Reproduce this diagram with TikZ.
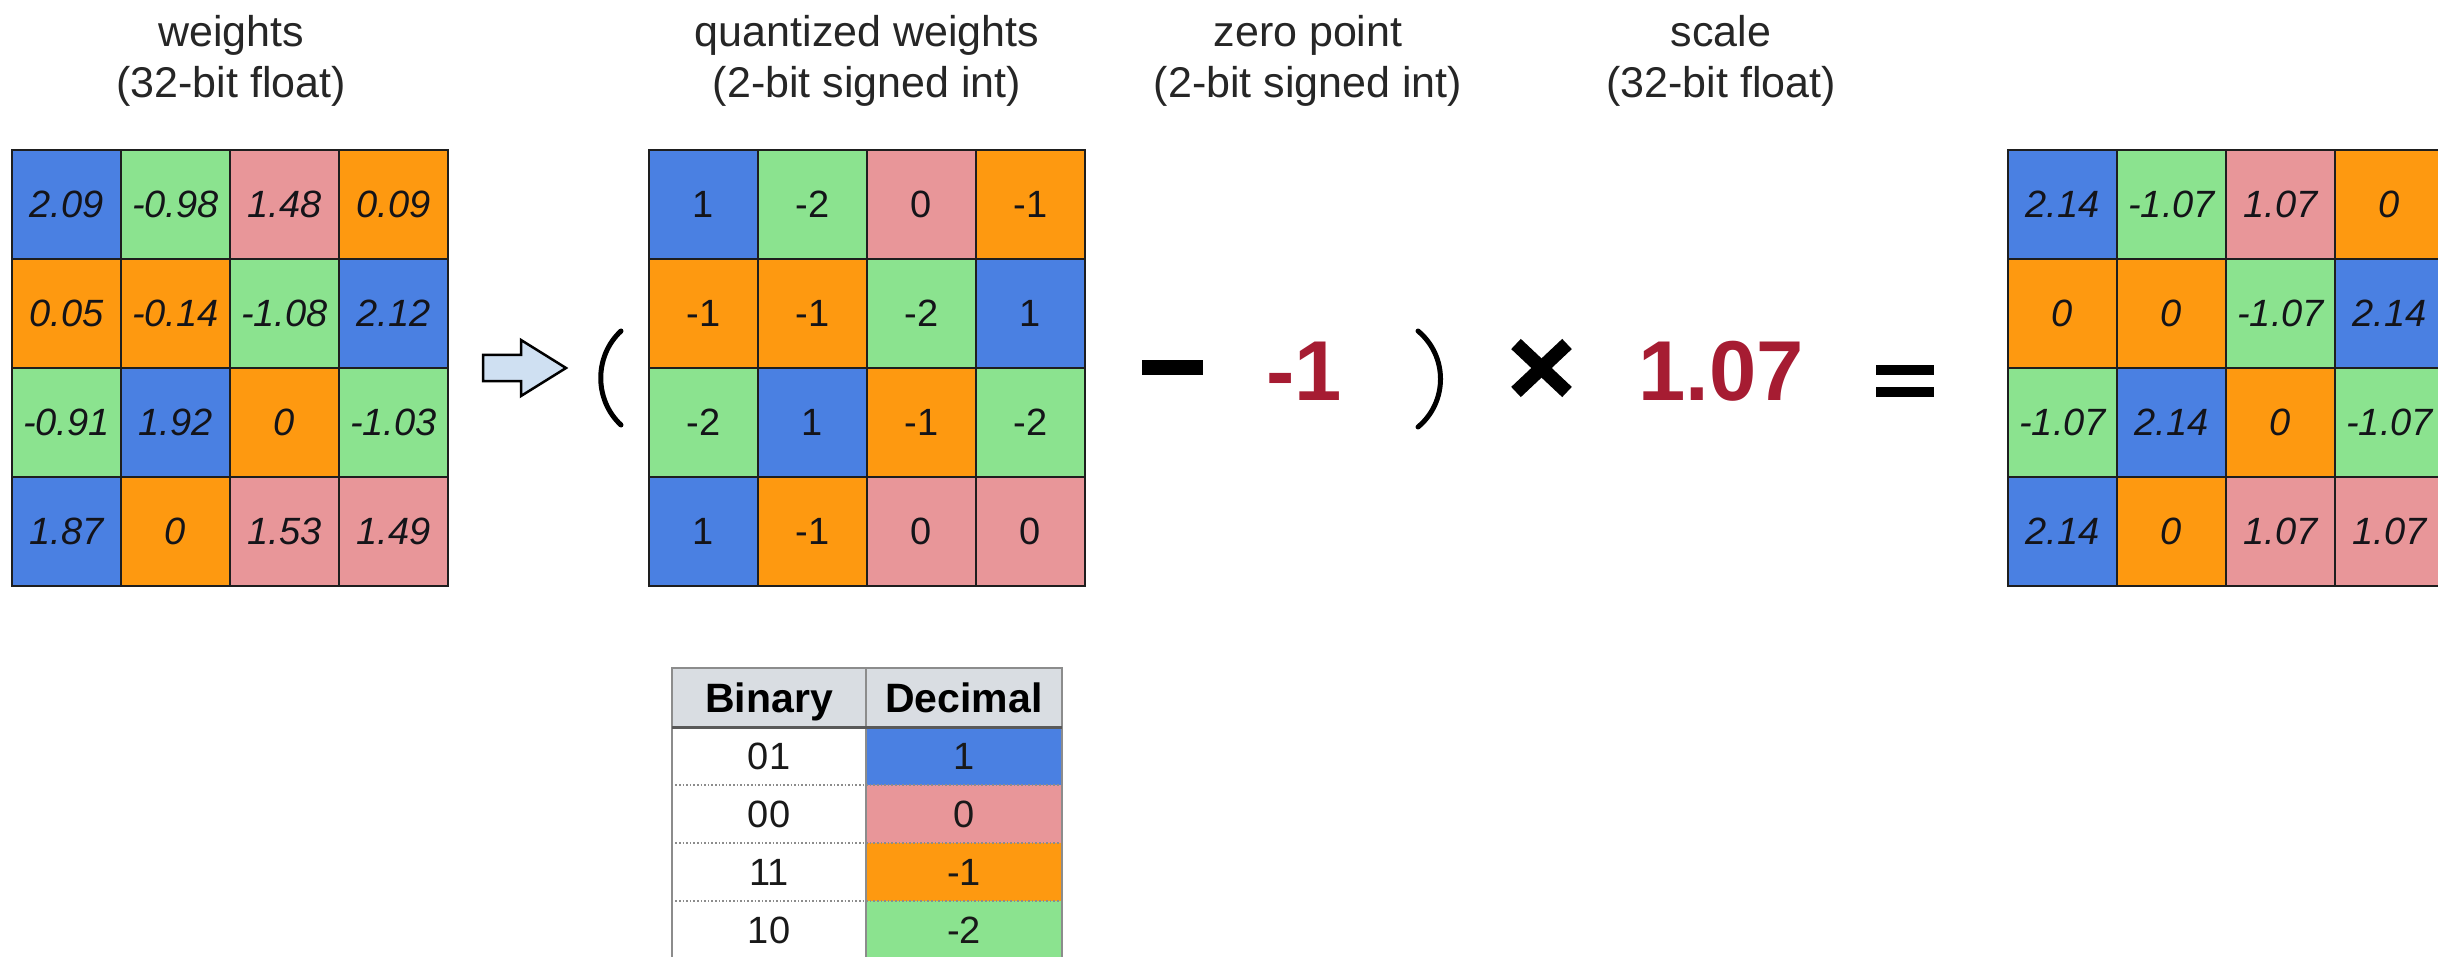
\documentclass[tikz,border=0pt]{standalone}
\usepackage{fontspec}
\setmainfont{Liberation Sans}
\definecolor{qblue}{RGB}{74,128,226}
\definecolor{qgreen}{RGB}{139,227,143}
\definecolor{qpink}{RGB}{232,150,153}
\definecolor{qorange}{RGB}{254,153,16}
\definecolor{qred}{RGB}{166,28,50}
\definecolor{hdrgray}{RGB}{217,221,226}
\definecolor{arrowfill}{RGB}{207,224,242}
\definecolor{gridline}{RGB}{30,30,30}
\definecolor{celltext}{RGB}{20,20,25}
\definecolor{tabline}{RGB}{140,140,140}
\newcommand{\ttlfont}{\fontsize{43}{51}\selectfont}
\newcommand{\celfont}{\fontsize{38}{44}\selectfont}
\newcommand{\bigfnt}{\fontsize{85}{90}\selectfont\bfseries}
\newcommand{\tabfont}{\fontsize{38}{44}\selectfont}
\newcommand{\tabhfont}{\fontsize{41}{46}\selectfont\bfseries}
\newcommand{\mkgrid}[4]{%
  \foreach \r/\c/\col/\t in {#4} {
    \node[cell, fill=\col, font=#3] (#1-\r-\c) at ({#2+(\c-0.5)*109}, {150+(\r-0.5)*109}) {\t};
  }}
\begin{document}
\begin{tikzpicture}[x=1pt,y=-1pt,
  cell/.style={draw=gridline, line width=2.6pt, minimum width=109pt, minimum height=109pt, inner sep=0pt, text=celltext},
  ttl/.style={anchor=base, inner sep=0pt, font=\ttlfont, text=black!85},
  tcell/.style={inner sep=0pt, minimum height=58pt, font=\tabfont, text=black!90},
  hcell/.style={inner sep=0pt, minimum height=59pt, text height=30pt, text depth=0pt, font=\tabhfont, fill=hdrgray, text=black},
  sepline/.style={dotted, line width=1.6pt, color=tabline},
  paren/.style={line width=5pt, line cap=round, color=black}]
\useasboundingbox (0,0) rectangle (2438,957);
\clip (0,0) rectangle (2438,957);
\fill[white] (0,0) rectangle (2438,957);

% titles
\node[ttl] (t1a) at (231,47) {weights};
\node[ttl] (t1b) at (231,98) {(32-bit float)};
\node[ttl] (t2a) at (867,47) {quantized weights};
\node[ttl] (t2b) at (867,98) {(2-bit signed int)};
\node[ttl] (t3a) at (1308,47) {zero point};
\node[ttl] (t3b) at (1308,98) {(2-bit signed int)};
\node[ttl] (t4a) at (1721,47) {scale};
\node[ttl] (t4b) at (1721,98) {(32-bit float)};

% left grid
\mkgrid{L}{12}{\celfont\itshape}{1/1/qblue/2.09, 1/2/qgreen/-0.98, 1/3/qpink/1.48, 1/4/qorange/0.09,
  2/1/qorange/0.05, 2/2/qorange/-0.14, 2/3/qgreen/-1.08, 2/4/qblue/2.12,
  3/1/qgreen/-0.91, 3/2/qblue/1.92, 3/3/qorange/0, 3/4/qgreen/-1.03,
  4/1/qblue/1.87, 4/2/qorange/0, 4/3/qpink/1.53, 4/4/qpink/1.49}

% quantized grid
\mkgrid{Q}{649}{\celfont}{1/1/qblue/1, 1/2/qgreen/-2, 1/3/qpink/0, 1/4/qorange/-1,
  2/1/qorange/-1, 2/2/qorange/-1, 2/3/qgreen/-2, 2/4/qblue/1,
  3/1/qgreen/-2, 3/2/qblue/1, 3/3/qorange/-1, 3/4/qgreen/-2,
  4/1/qblue/1, 4/2/qorange/-1, 4/3/qpink/0, 4/4/qpink/0}

% result grid
\mkgrid{R}{2008}{\celfont\itshape}{1/1/qblue/2.14, 1/2/qgreen/-1.07, 1/3/qpink/1.07, 1/4/qorange/0,
  2/1/qorange/0, 2/2/qorange/0, 2/3/qgreen/-1.07, 2/4/qblue/2.14,
  3/1/qgreen/-1.07, 3/2/qblue/2.14, 3/3/qorange/0, 3/4/qgreen/-1.07,
  4/1/qblue/2.14, 4/2/qorange/0, 4/3/qpink/1.07, 4/4/qpink/1.07}

% block arrow
\draw[line width=2.5pt, fill=arrowfill, line join=miter]
  (483,355) -- (521,355) -- (521,340) -- (566,368) -- (521,396) -- (521,381) -- (483,381) -- cycle;

% parentheses
\draw[paren] (621,331) .. controls (594,356) and (594,400) .. (621,425);
\draw[paren] (1418,331) .. controls (1448,356) and (1448,402) .. (1418,427);

% minus
\fill[black] (1142,360) rectangle (1203,375);
% zero point value
\node[inner sep=0pt, font=\bigfnt, text=qred] (zp) at (1304,371) {-1};
% times
\draw[line width=14pt, line cap=butt] (1516,344) -- (1567,392);
\draw[line width=14pt, line cap=butt] (1516,392) -- (1567,344);
% scale value
\node[inner sep=0pt, font=\bigfnt, text=qred] (sc) at (1721,371) {1.07};
% equals
\fill[black] (1876,365) rectangle (1934,375);
\fill[black] (1876,387) rectangle (1934,397);

% table
\node[hcell, minimum width=194pt] (hb) at (769,697.5) {Binary};
\node[hcell, minimum width=196pt] (hd) at (964,697.5) {Decimal};
\node[tcell, minimum width=194pt, fill=white] (b1) at (769,756) {01};
\node[tcell, minimum width=196pt, fill=qblue] (d1) at (964,756) {1};
\node[tcell, minimum width=194pt, fill=white] (b2) at (769,814) {00};
\node[tcell, minimum width=196pt, fill=qpink] (d2) at (964,814) {0};
\node[tcell, minimum width=194pt, fill=white] (b3) at (769,872) {11};
\node[tcell, minimum width=196pt, fill=qorange] (d3) at (964,872) {-1};
\node[tcell, minimum width=194pt, fill=white] (b4) at (769,930) {10};
\node[tcell, minimum width=196pt, fill=qgreen] (d4) at (964,930) {-2};

\draw[sepline] (b1.south west) -- (d1.south east);
\draw[sepline] (b2.south west) -- (d2.south east);
\draw[sepline] (b3.south west) -- (d3.south east);
\draw[line width=2pt, color=tabline] (hb.north west) -- (hd.north east) -- (d4.south east) -- (b4.south west) -- cycle;
\draw[line width=2pt, color=tabline] (hb.north east) -- (b4.south east);
\draw[line width=3pt, color=black!65] (hb.south west) -- (hd.south east);
\end{tikzpicture}
\end{document}
